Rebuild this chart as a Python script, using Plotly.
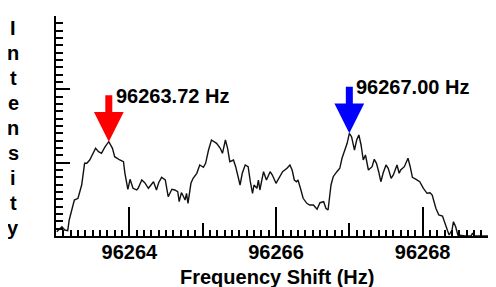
import numpy as np
import plotly.graph_objects as go

# Spectrum (frequency in Hz, intensity in arbitrary units)
freq = [96263.01, 96263.08, 96263.12, 96263.16, 96263.18, 96263.21, 96263.25, 96263.30, 96263.33, 96263.35,
        96263.39, 96263.42, 96263.46, 96263.50, 96263.54, 96263.58, 96263.62, 96263.67, 96263.72, 96263.77,
        96263.80, 96263.87, 96263.92, 96263.94, 96263.98, 96264.01, 96264.05, 96264.10, 96264.12, 96264.17,
        96264.21, 96264.26, 96264.31, 96264.33, 96264.37, 96264.40, 96264.44, 96264.49, 96264.53, 96264.58,
        96264.62, 96264.66, 96264.68, 96264.71, 96264.74, 96264.76, 96264.78, 96264.80, 96264.84, 96264.87,
        96264.92, 96264.96, 96265.01, 96265.04, 96265.08, 96265.12, 96265.19, 96265.24, 96265.27, 96265.31,
        96265.34, 96265.37, 96265.42, 96265.45, 96265.51, 96265.54, 96265.58, 96265.62, 96265.65, 96265.68,
        96265.70, 96265.74, 96265.76, 96265.78, 96265.83, 96265.87, 96265.92, 96265.95, 96266.00, 96266.04,
        96266.09, 96266.15, 96266.19, 96266.22, 96266.25, 96266.28, 96266.30, 96266.34, 96266.37, 96266.42,
        96266.46, 96266.51, 96266.56, 96266.60, 96266.65, 96266.68, 96266.71, 96266.75, 96266.78, 96266.83,
        96266.87, 96266.90, 96266.94, 96266.97, 96267.00, 96267.03, 96267.07, 96267.10, 96267.13, 96267.16,
        96267.19, 96267.22, 96267.26, 96267.31, 96267.34, 96267.37, 96267.40, 96267.43, 96267.46, 96267.50,
        96267.53, 96267.57, 96267.60, 96267.65, 96267.68, 96267.70, 96267.75, 96267.80, 96267.83, 96267.86,
        96267.91, 96267.96, 96268.01, 96268.06, 96268.10, 96268.13, 96268.18, 96268.22, 96268.27, 96268.30,
        96268.36, 96268.40, 96268.42, 96268.45, 96268.48, 96268.58, 96268.66, 96268.68, 96268.70, 96269.00]

intensity = [4.3, 9.3, 6, 5.3, 16, 26, 36, 37.7, 44.3, 51,
             72.7, 72.7, 76, 82.7, 87.7, 84.3, 82.7, 89.3, 94.3, 87.7,
             79.3, 76, 74.3, 62.7, 46.7, 56.7, 47.7, 46, 47.7, 56,
             53.3, 47.7, 53.3, 54.3, 46, 53.3, 58.7, 56, 39.3, 46.7,
             46, 44.3, 34.3, 43.3, 39.3, 36, 42.7, 32.7, 52.7, 57.7,
             62.7, 71, 68.7, 72.7, 86, 96, 92.7, 87.7, 82.7, 96,
             87.7, 74.3, 76, 69.3, 51, 62.7, 71, 69.3, 54.3, 42.7,
             51, 47.7, 56, 46, 64.3, 56, 64.3, 61, 52.7, 57.7,
             64.3, 67.7, 71, 66, 56, 54.3, 56, 46, 37.7, 32.7,
             31, 31, 26.7, 33.3, 34.3, 27.7, 26, 51, 59.3, 64.3,
             67.7, 77.7, 86, 92.7, 102.7, 99.3, 86, 96, 101, 91,
             76, 81, 66, 69.3, 76.7, 72.7, 64.3, 54.3, 62.7, 71,
             67.7, 57.7, 61, 71, 62.7, 66, 69.3, 77.7, 69.3, 58.7,
             56.7, 54.3, 47.7, 42.7, 43.3, 41, 27.7, 21, 20, 14.3,
             1, 6, 14.3, 9.3, 1, 0, 0, 3, 0, 0]

peak_freqs = [96263.72, 96267.00]
peak_labels = ["96263.72 Hz", "96267.00 Hz"]
peak_colors = ["#FF0000", "#0000FF"]

major_ticks = [96264, 96266, 96268]
mid_ticks = [96263, 96265, 96267, 96269]
tick_text = ["96264", "96266", "96268"]

x_range = [96263, 96269]
y_range = [0, 220]

y_title = "Intensity"
x_title = "Frequency Shift (Hz)"

FONT = "Liberation Sans, Arial, sans-serif"

fig = go.Figure()
fig.add_trace(go.Scatter(x=freq, y=intensity, mode="lines",
                         line=dict(color="#111111", width=1.4),
                         showlegend=False, hoverinfo="skip"))
# dummy trace to carry the secondary (mid-tick) axis
fig.add_trace(go.Scatter(x=x_range, y=[None, None], xaxis="x2", mode="lines",
                         showlegend=False, hoverinfo="skip"))

annotations = []
for f, lab, col in zip(peak_freqs, peak_labels, peak_colors):
    yv = float(np.interp(f, freq, intensity))
    annotations.append(dict(x=f, y=yv, xref="x", yref="y", text="", showarrow=True,
                            ax=0, ay=-48, arrowcolor=col, arrowwidth=7, arrowhead=2,
                            arrowsize=0.85, standoff=0))
    annotations.append(dict(x=f, y=yv, xref="x", yref="y", text=lab, showarrow=False,
                            xanchor="left", yanchor="middle", xshift=5, yshift=46,
                            font=dict(family=FONT, size=20, color="#000000", weight="bold")))

for k, ch in enumerate(y_title):
    annotations.append(dict(x=-0.0966, y=(236 - (28 + 25 * k)) / 220, xref="paper", yref="paper",
                            text=ch, showarrow=False, xanchor="center", yanchor="middle",
                            font=dict(family=FONT, size=20, color="#000000", weight="bold")))

annotations.append(dict(x=0.502, y=(236 - 276.5) / 220, xref="paper", yref="paper",
                        text=x_title, showarrow=False, xanchor="center", yanchor="middle",
                        font=dict(family=FONT, size=20, color="#000000", weight="bold")))

# the page body keeps its default 8 px margin, so the figure is 8 px smaller
fig.update_layout(
    width=488, height=279,
    margin=dict(l=48, r=0, t=8, b=51),
    paper_bgcolor="white", plot_bgcolor="white",
    xaxis=dict(range=x_range, showgrid=False, zeroline=False, showline=True,
               linecolor="black", linewidth=2,
               tickmode="array", tickvals=major_ticks, ticktext=tick_text,
               ticks="inside", ticklen=29, tickwidth=1.5, tickcolor="black",
               ticklabelstandoff=-3,
               tickfont=dict(family=FONT, size=20, color="black", weight="bold"),
               minor=dict(tickmode="linear", tick0=96263, dtick=0.1, ticks="inside",
                          ticklen=6, tickwidth=1.5, tickcolor="black", showgrid=False)),
    xaxis2=dict(range=x_range, overlaying="x", matches="x", side="bottom", showgrid=False,
                zeroline=False, showline=False, tickmode="array", tickvals=mid_ticks,
                ticks="inside", ticklen=13, tickwidth=1.5, tickcolor="black",
                showticklabels=False),
    yaxis=dict(range=y_range, showgrid=False, zeroline=False, showline=True,
               linecolor="black", linewidth=2, showticklabels=False,
               tickmode="linear", tick0=0, dtick=220 / 3,
               ticks="inside", ticklen=14, tickwidth=1.5, tickcolor="black",
               minor=dict(tickmode="linear", tick0=0, dtick=22 / 3, ticks="inside",
                          ticklen=7, tickwidth=1.5, tickcolor="black", showgrid=False)),
    annotations=annotations,
)

fig.write_html("out.html")
